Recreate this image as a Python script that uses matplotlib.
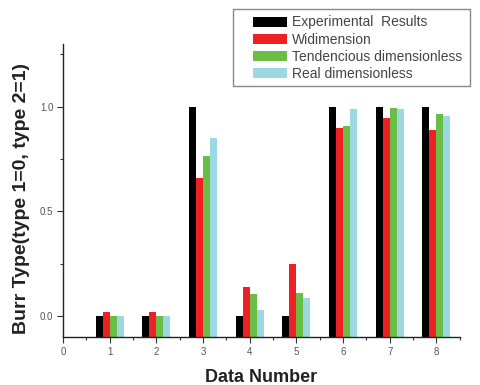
import numpy as np
import matplotlib
matplotlib.use('Agg')
import matplotlib.pyplot as plt
from matplotlib.patches import Rectangle
from matplotlib.ticker import MultipleLocator

plt.rcParams['font.family'] = ['Liberation Sans', 'DejaVu Sans']

data_number = [1, 2, 3, 4, 5, 6, 7, 8]
experimental = [0.0, 0.0, 1.0, 0.0, 0.0, 1.0, 1.0, 1.0]
widimension = [0.02, 0.02, 0.66, 0.14, 0.25, 0.90, 0.945, 0.887]
tendencious = [0.0, 0.0, 0.765, 0.104, 0.11, 0.906, 0.994, 0.967]
real_dimless = [0.0, 0.0, 0.85, 0.03, 0.086, 0.99, 0.99, 0.958]

series = [
    ('Experimental  Results', experimental, '#000000'),
    ('Widimension', widimension, '#ee2024'),
    ('Tendencious dimensionless', tendencious, '#6abd45'),
    ('Real dimensionless', real_dimless, '#9cd8e2'),
]

y_lo, y_hi = -0.1, 1.3
width = 0.15

fig = plt.figure(figsize=(4.81, 3.85), dpi=100)
ax = fig.add_axes([0.131, 0.1247, 0.825, 0.761])

x = np.array(data_number)
handles = []
for i, (label, vals, col) in enumerate(series):
    v = np.array(vals)
    b = ax.bar(x + (i - 1.5) * width, v - y_lo, bottom=y_lo, width=width,
               color=col, label=label, linewidth=0)
    handles.append(b)

ax.set_xlim(0, 8.5)
ax.set_ylim(y_lo, y_hi)
ax.set_xticks(range(0, 9))
ax.xaxis.set_minor_locator(MultipleLocator(0.5))
ax.set_yticks([0.0, 0.5, 1.0])
ax.set_yticklabels(['0.0', '0.5', '1.0'])
ax.yaxis.set_minor_locator(MultipleLocator(0.25))

for s in ['top', 'right']:
    ax.spines[s].set_visible(False)
for s in ['left', 'bottom']:
    ax.spines[s].set_linewidth(1.0)
    ax.spines[s].set_color('#222222')

ax.tick_params(which='major', direction='out', length=4, width=0.8, labelsize=7,
               labelcolor='#555555', color='#333333', pad=3)
ax.tick_params(which='minor', direction='out', length=2.5, width=0.8, color='#333333')

ax.set_xlabel('Data Number', fontsize=13, fontweight='bold', color='#222222', va='top')
ax.xaxis.set_label_coords(0.5, -0.108)
ax.set_ylabel('Burr Type(type 1=0, type 2=1)', fontsize=14, fontweight='bold',
              color='#222222')
ax.yaxis.set_label_coords(-0.084, 0.474)

# legend frame drawn in figure coords
fig.patches.append(Rectangle((0.484, 0.777), 0.493, 0.2, transform=fig.transFigure,
                             fill=True, facecolor='white', edgecolor='#888888',
                             linewidth=1.0, zorder=5))
leg = fig.legend(handles=handles, loc='upper left', bbox_to_anchor=(0.521, 0.967),
                 frameon=False, fontsize=10, labelcolor='#444444',
                 handlelength=2.4, handleheight=0.75, handletextpad=0.35,
                 labelspacing=0.23, borderpad=0.2, borderaxespad=0)
leg.set_zorder(6)

fig.savefig('out.png', dpi=100, facecolor='white')
